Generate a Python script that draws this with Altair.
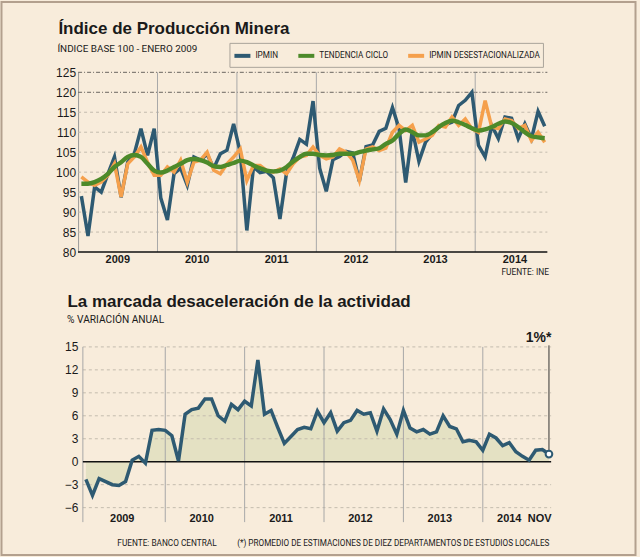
import altair as alt
import pandas as pd

# ---------------------------------------------------------------- data
# Months are numbered from January 2009 (0) to November 2014 (70).
meses = list(range(71))

ipmin = [
    94.0, 84.0, 96.3, 95.0, 99.5, 103.8, 93.7, 102.5, 104.6, 110.9, 104.2, 110.9,
    93.5, 88.0, 99.6, 101.0, 96.7, 103.8, 103.0, 104.5, 101.0, 104.6, 105.5, 112.1,
    105.0, 85.4, 101.3, 99.9, 100.2, 98.6, 88.3, 99.9, 103.6, 108.2, 107.0, 117.8,
    101.0, 95.2, 103.1, 103.9, 105.2, 104.8, 97.7, 106.4, 106.8, 110.2, 111.0, 116.2,
    110.9, 97.4, 110.5, 102.7, 107.5, 109.6, 111.3, 111.9, 112.5, 116.7, 118.0, 120.0,
    106.7, 103.8, 111.7, 108.4, 113.8, 113.5, 108.4, 112.1, 108.4, 115.2, 111.5,
]

desestacionalizada = [
    98.8, 97.5, 96.7, 97.5, 99.2, 102.1, 93.8, 102.1, 103.8, 106.3, 102.5, 99.2,
    99.2, 101.3, 100.0, 103.0, 97.5, 102.5, 103.0, 105.0, 100.5, 99.6, 102.1, 103.8,
    105.8, 97.9, 101.7, 101.7, 100.4, 100.0, 100.8, 99.6, 102.1, 103.8, 104.2, 106.3,
    104.2, 103.3, 103.8, 105.8, 105.0, 103.0, 97.9, 105.8, 106.3, 105.4, 106.0, 110.0,
    111.7, 110.4, 111.7, 107.5, 108.3, 109.2, 111.7, 111.3, 113.8, 111.7, 113.3, 110.9,
    110.0, 117.9, 111.3, 110.9, 113.3, 112.9, 110.9, 111.7, 107.9, 110.0, 107.5,
]

tendencia = [
    97.1, 97.1, 97.5, 98.3, 99.6, 101.3, 102.5, 103.8, 104.3, 103.8, 102.1, 100.4,
    99.9, 100.4, 101.3, 102.1, 103.0, 103.3, 103.0, 102.4, 101.5, 101.3, 101.8, 102.3,
    102.9, 102.5, 101.7, 101.0, 100.4, 100.2, 100.4, 101.3, 102.7, 103.8, 104.6, 104.6,
    104.3, 104.2, 104.3, 104.6, 104.6, 104.6, 105.0, 105.4, 105.7, 106.0, 107.1, 107.9,
    109.6, 110.7, 110.0, 109.2, 109.2, 110.0, 111.3, 112.3, 112.9, 112.5, 111.8, 111.0,
    110.4, 110.7, 111.3, 112.1, 112.7, 112.3, 111.3, 110.0, 109.0, 108.7, 108.5,
]

variacion_anual = [
    -2.3, -4.4, -2.2, -2.6, -3.0, -3.1, -2.6, 0.2, 0.7, -0.2, 4.1, 4.2,
    4.1, 3.4, 0.1, 6.2, 6.8, 7.0, 8.2, 8.2, 6.0, 5.3, 7.5, 6.8,
    7.9, 7.3, 13.3, 6.2, 6.7, 4.5, 2.4, 3.3, 4.2, 4.5, 4.3, 6.6,
    5.1, 6.4, 4.0, 5.1, 5.4, 6.7, 6.2, 6.4, 4.0, 6.9, 5.5, 3.6,
    6.7, 4.4, 3.9, 4.2, 3.6, 3.9, 6.0, 4.6, 4.3, 2.6, 2.8, 2.6,
    1.5, 3.6, 3.1, 2.1, 2.5, 1.3, 0.7, 0.2, 1.5, 1.6, 1.0,
]

anios = ["2009", "2010", "2011", "2012", "2013", "2014"]
series = ["IPMIN", "TENDENCIA CICLO", "IPMIN DESESTACIONALIZADA"]
ticks_indice = [80, 85, 90, 95, 100, 105, 110, 115, 120, 125]
ticks_variacion = [-6, -3, 0, 3, 6, 9, 12, 15]

# ---------------------------------------------------------------- style
FONDO = "#f8ecdb"
AZUL = "#2e5a72"
NARANJA = "#f5a04c"
VERDE = "#4d8a2a"
RELLENO = "#e4e1c3"
TEXTO = "#1a1a1a"
GRIS_GRID = "#c4bcae"
GRIS_SEP = "#a8a8a8"
FUENTE = "Liberation Sans"
ANGOSTA = "Roboto"

W1, H1 = 465, 180
W2, H2 = 469, 161


def texto(t, x, y, size, weight="normal", font=ANGOSTA, align="left"):
    return (
        alt.Chart(pd.DataFrame({"t": [t]}))
        .mark_text(align=align, baseline="alphabetic", font=font,
                   fontSize=size, fontWeight=weight, color=TEXTO)
        .encode(x=alt.value(x), y=alt.value(y), text="t:N")
    )


# ---------------------------------------------------------------- top panel
x_top = alt.Scale(domain=[0.226, 70.37], nice=False, zero=False)
y_top = alt.Scale(domain=[80, 125], nice=False, zero=False)
eje_top = alt.Axis(values=ticks_indice, title=None, grid=False, ticks=False,
                   domain=True, domainColor="#9a9a9a", domainWidth=1,
                   offset=4.8, labelPadding=2.5, labelFont=FUENTE,
                   labelFontSize=12, labelColor=TEXTO)
color_scale = alt.Scale(domain=series, range=[AZUL, VERDE, NARANJA])
leyenda = alt.Legend(
    title=None, orient="none", legendX=146.8, legendY=-29.5,
    direction="horizontal", strokeColor="#aaa49a", fillColor=FONDO,
    padding=3, labelFont=ANGOSTA, labelFontSize=8.2, labelColor=TEXTO,
    symbolType="stroke", symbolSize=256, symbolStrokeWidth=4,
    columnPadding=12, labelOffset=3, labelLimit=300,
)

marco = (
    alt.Chart(pd.DataFrame({"a": [0]}))
    .mark_rect(fill="transparent", stroke="#b3a08e", strokeWidth=2)
    .encode(x=alt.value(-81.5), x2=alt.value(553.5),
            y=alt.value(-70.5), y2=alt.value(483.5))
)

grid_claro = (
    alt.Chart(pd.DataFrame({"v": [v for v in ticks_indice if 80 < v < 120]}))
    .mark_rule(color=GRIS_GRID, strokeDash=[3, 3], strokeWidth=1)
    .encode(y=alt.Y("v:Q", scale=y_top, axis=eje_top),
            x=alt.value(-4.8), x2=alt.value(W1 + 0.2))
)
grid_oscuro = (
    alt.Chart(pd.DataFrame({"v": [v for v in ticks_indice if v >= 120]}))
    .mark_rule(color="#6a6560", strokeDash=[4, 2, 1, 2], strokeWidth=1)
    .encode(y=alt.Y("v:Q", scale=y_top, axis=eje_top),
            x=alt.value(-4.8), x2=alt.value(W1 + 0.2))
)
separadores_top = (
    alt.Chart(pd.DataFrame({"m": [12 * k - 0.5 for k in range(1, 6)]}))
    .mark_rule(color=GRIS_SEP, strokeWidth=1)
    .encode(x=alt.X("m:Q", scale=x_top, axis=None),
            y=alt.value(0), y2=alt.value(H1))
)
base_top = (
    alt.Chart(pd.DataFrame({"v": [80]}))
    .mark_rule(color="#111111", strokeWidth=1.6)
    .encode(y=alt.Y("v:Q", scale=y_top, axis=eje_top),
            x=alt.value(-4.8), x2=alt.value(W1 + 0.2))
)


def serie_linea(valores, nombre, ancho, interp="linear"):
    df = pd.DataFrame({"mes": meses, "valor": valores, "serie": nombre})
    return (
        alt.Chart(df)
        .mark_line(strokeWidth=ancho, interpolate=interp)
        .encode(
            x=alt.X("mes:Q", scale=x_top, axis=None),
            y=alt.Y("valor:Q", scale=y_top, axis=eje_top),
            color=alt.Color("serie:N", scale=color_scale, legend=leyenda),
        )
    )


linea_ipmin = serie_linea(ipmin, "IPMIN", 3.5)
linea_desest = serie_linea(desestacionalizada, "IPMIN DESESTACIONALIZADA", 3.5)
linea_tend = serie_linea(tendencia, "TENDENCIA CICLO", 4.4, "monotone")

anios_top = (
    alt.Chart(pd.DataFrame({"m": [12 * k + 5.5 for k in range(6)], "t": anios}))
    .mark_text(font=FUENTE, fontWeight="bold", fontSize=11, color=TEXTO,
               baseline="alphabetic")
    .encode(x=alt.X("m:Q", scale=x_top, axis=None), y=alt.value(190.5),
            text="t:N")
)

top = alt.layer(
    marco, grid_claro, grid_oscuro, separadores_top, base_top,
    linea_ipmin, linea_desest, linea_tend, anios_top,
    texto("Índice de Producción Minera", -24.5, -38.2, 17, "bold", FUENTE),
    texto("ÍNDICE BASE 100 - ENERO 2009", -25.5, -20, 9.9),
    texto("FUENTE: INE", 466.8, 202.5, 8.4, align="right"),
).properties(width=W1, height=H1)

# ---------------------------------------------------------------- bottom panel
x_bot = alt.Scale(domain=[-0.453, 70.33], nice=False, zero=False)
y_bot = alt.Scale(domain=[-6, 15], nice=False, zero=False)
eje_bot = alt.Axis(values=ticks_variacion, title=None, grid=False,
                   ticks=False, domain=False, labelPadding=5,
                   labelFont=FUENTE, labelFontSize=12, labelColor=TEXTO)
df_var = pd.DataFrame({"mes": meses, "valor": variacion_anual})

area = (
    alt.Chart(df_var)
    .mark_area(color=RELLENO, opacity=1)
    .encode(x=alt.X("mes:Q", scale=x_bot, axis=None),
            y=alt.Y("valor:Q", scale=y_bot, axis=eje_bot),
            y2=alt.datum(0))
)
grid_bot = (
    alt.Chart(pd.DataFrame({"v": [v for v in ticks_variacion if v != 0]}))
    .mark_rule(color=GRIS_GRID, strokeDash=[3, 3], strokeWidth=1)
    .encode(y=alt.Y("v:Q", scale=y_bot, axis=eje_bot),
            x=alt.value(0), x2=alt.value(W2))
)
separadores_bot = (
    alt.Chart(pd.DataFrame({"m": [12 * k for k in range(1, 6)]}))
    .mark_rule(color=GRIS_SEP, strokeWidth=1)
    .encode(x=alt.X("m:Q", scale=x_bot, axis=None),
            y=alt.value(0), y2=alt.value(175.5))
)
borde_izq = (
    alt.Chart(pd.DataFrame({"a": [0]}))
    .mark_rule(color=GRIS_SEP, strokeWidth=1)
    .encode(x=alt.value(0), y=alt.value(0), y2=alt.value(175.5))
)
cero = (
    alt.Chart(pd.DataFrame({"v": [0]}))
    .mark_rule(color="#111111", strokeWidth=1.6)
    .encode(y=alt.Y("v:Q", scale=y_bot, axis=eje_bot),
            x=alt.value(0), x2=alt.value(W2))
)
ultimo = df_var.tail(1)
guia_nov = (
    alt.Chart(ultimo)
    .mark_rule(color="#333333", strokeWidth=1)
    .encode(x=alt.X("mes:Q", scale=x_bot, axis=None),
            y=alt.Y("valor:Q", scale=y_bot, axis=eje_bot), y2=alt.datum(15.2))
)
linea_var = (
    alt.Chart(df_var)
    .mark_line(color=AZUL, strokeWidth=3.5)
    .encode(x=alt.X("mes:Q", scale=x_bot, axis=None),
            y=alt.Y("valor:Q", scale=y_bot, axis=eje_bot))
)
punto = (
    alt.Chart(ultimo)
    .mark_point(filled=True, fill="white", stroke=AZUL, strokeWidth=2,
                size=45, opacity=1)
    .encode(x=alt.X("mes:Q", scale=x_bot, axis=None),
            y=alt.Y("valor:Q", scale=y_bot, axis=eje_bot))
)
pos_anios_bot = [12 * k + 5.5 for k in range(5)] + [64]
anios_bot = (
    alt.Chart(pd.DataFrame({"m": pos_anios_bot, "t": anios}))
    .mark_text(font=FUENTE, fontWeight="bold", fontSize=11, color=TEXTO,
               baseline="alphabetic")
    .encode(x=alt.X("m:Q", scale=x_bot, axis=None), y=alt.value(175),
            text="t:N")
)
mes_final = (
    alt.Chart(pd.DataFrame({"m": [70], "t": ["NOV"]}))
    .mark_text(font=FUENTE, fontWeight="bold", fontSize=11, color=TEXTO,
               baseline="alphabetic", align="right", dx=2.7)
    .encode(x=alt.X("m:Q", scale=x_bot, axis=None), y=alt.value(175),
            text="t:N")
)

bottom = alt.layer(
    area, grid_bot, separadores_bot, borde_izq, cero, guia_nov, linea_var,
    punto, anios_bot, mes_final,
    texto("La marcada desaceleración de la actividad", -15.5, -39.5, 17,
          "bold", FUENTE),
    texto("% VARIACIÓN ANUAL", -15.8, -23.8, 10.2),
    texto("1%*", 469.2, -5, 14, "bold", FUENTE, align="right"),
    texto("FUENTE: BANCO CENTRAL", 34.5, 199, 8.3),
    texto("(*) PROMEDIO DE ESTIMACIONES DE DIEZ DEPARTAMENTOS DE ESTUDIOS LOCALES",
          154.5, 199, 8.2),
).properties(width=W2, height=H2)

chart = (
    alt.vconcat(top, bottom, spacing=95, bounds="flush")
    .properties(padding={"left": 0, "top": 0, "right": 3, "bottom": 1})
    .configure(background=FONDO)
    .configure_view(strokeWidth=0)
)

chart.save("out.html", embed_options={"renderer": "svg", "actions": False})
